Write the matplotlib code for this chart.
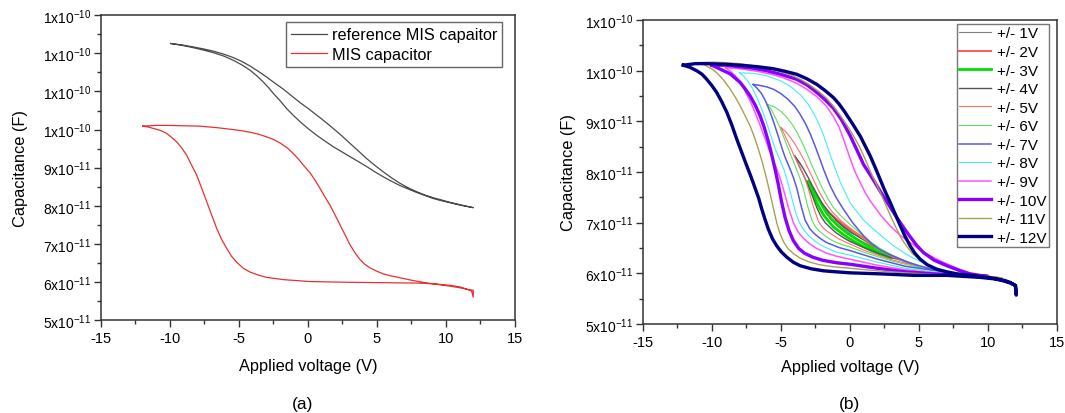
import numpy as np
import matplotlib
matplotlib.use("Agg")
import matplotlib.pyplot as plt
from matplotlib.ticker import FixedLocator, MultipleLocator

plt.rcParams['font.family'] = ['Liberation Sans', 'DejaVu Sans']
plt.rcParams['mathtext.fontset'] = 'custom'
plt.rcParams['mathtext.rm'] = 'Liberation Sans'
plt.rcParams['axes.unicode_minus'] = False

# capacitances are given in units of 1e-11 F
UNIT = 1e-11

# ---- (a) reference vs MIS capacitor ----
ref_v_up = [-9.95, -9.1, -8.31, -7.6, -6.86, -6.1, -5.41, -4.8, -4.2, -3.6, -3.0, -2.4, -1.78, -1.2, -0.58, 0.03,
            0.63, 1.23, 1.83, 2.44, 3.04, 3.65, 4.25, 4.85, 5.46, 6.07, 6.67, 7.27, 7.87, 8.48, 9.08, 9.7, 10.29, 11.1, 11.98]
ref_c_up = [12.26, 12.22, 12.17, 12.12, 12.06, 11.98, 11.89, 11.79, 11.67, 11.53, 11.38, 11.22, 11.06, 10.89, 10.71, 10.55,
            10.38, 10.21, 10.03, 9.84, 9.64, 9.44, 9.24, 9.06, 8.89, 8.73, 8.59, 8.47, 8.37, 8.28, 8.21, 8.15, 8.09, 8.02, 7.95]
ref_v_dn = [-9.95, -9.1, -8.31, -7.6, -6.86, -6.1, -5.41, -4.8, -4.2, -3.7, -3.24, -2.85, -2.51, -2.0, -1.54, -1.05, -0.58, 0.03,
            0.63, 1.23, 1.83, 2.44, 3.04, 3.65, 4.25, 4.85, 5.46, 6.07, 6.67, 7.27, 7.87, 8.48, 9.08, 9.7, 10.29, 11.1, 11.98]
ref_c_dn = [12.26, 12.21, 12.15, 12.09, 12.02, 11.93, 11.82, 11.70, 11.56, 11.41, 11.25, 11.10, 10.95, 10.75, 10.55, 10.37, 10.21, 10.02,
            9.85, 9.70, 9.55, 9.42, 9.29, 9.16, 9.03, 8.89, 8.76, 8.64, 8.53, 8.44, 8.35, 8.27, 8.19, 8.13, 8.08, 8.01, 7.95]

mis_v_up = [-11.98, -11.0, -10.24, -9.0, -7.83, -6.6, -5.41, -4.8, -4.2, -3.6, -3.0, -2.5, -2.03, -1.5, -1.06, -0.7, -0.34, 0.14,
            0.5, 0.87, 1.2, 1.59, 1.95, 2.32, 2.7, 3.04, 3.4, 3.77, 4.1, 4.49, 5.0, 5.46, 6.0, 6.67, 7.3, 7.87, 8.5, 9.08, 9.7,
            10.29, 10.8, 11.25, 11.6, 11.86, 11.98]
mis_c_up = [10.09, 10.11, 10.11, 10.10, 10.09, 10.05, 10.0, 9.97, 9.93, 9.88, 9.81, 9.74, 9.65, 9.52, 9.37, 9.23, 9.07, 8.87,
            8.68, 8.46, 8.25, 8.02, 7.77, 7.50, 7.23, 6.98, 6.77, 6.59, 6.47, 6.37, 6.28, 6.21, 6.16, 6.11, 6.06, 6.02, 5.98, 5.95, 5.92,
            5.89, 5.86, 5.83, 5.80, 5.76, 5.60]
mis_v_dn = [-11.98, -11.6, -11.21, -10.7, -10.24, -9.9, -9.52, -9.15, -8.79, -8.55, -8.07, -7.7, -7.34, -6.98, -6.62, -6.26,
            -5.89, -5.53, -5.17, -4.69, -4.2, -3.6, -3.0, -1.78, 0.14, 3.0, 5.5, 7.9, 9.1, 10.3, 11.0, 11.6, 11.98]
mis_c_dn = [10.09, 10.07, 10.03, 9.98, 9.90, 9.80, 9.68, 9.52, 9.33, 9.15, 8.81, 8.46, 8.11, 7.76, 7.41, 7.12,
            6.88, 6.67, 6.52, 6.36, 6.26, 6.18, 6.12, 6.06, 6.01, 5.99, 5.98, 5.97, 5.95, 5.91, 5.87, 5.80, 5.78]

# ---- (b) sweeps of increasing amplitude ----
v1_up = [-1, -0.5, 0, 0.5, 1]
c1_up = [7.05, 6.95, 6.86, 6.78, 6.70]
v1_dn = [-1, -0.5, 0, 0.5, 1]
c1_dn = [7.05, 6.91, 6.80, 6.75, 6.70]

v2_up = [-2, -1.5, -1, -0.5, 0, 1, 2]
c2_up = [7.35, 7.20, 7.08, 6.97, 6.88, 6.70, 6.50]
v2_dn = [-2, -1.6, -1.3, -0.7, 0, 1, 2]
c2_dn = [7.35, 7.16, 7.05, 6.90, 6.76, 6.60, 6.50]

v3_up = [-3, -2.7, -2.4, -2.05, -1.7, -1.35, -1, -0.5, 0, 0.75, 1.5, 2.2, 3]
c3_up = [7.81, 7.66, 7.52, 7.36, 7.20, 7.08, 6.98, 6.86, 6.76, 6.63, 6.52, 6.41, 6.30]
v3_dn = [-3, -2.75, -2.5, -2.2, -1.9, -1.55, -1.2, -0.6, 0, 0.75, 1.5, 2.2, 3]
c3_dn = [7.81, 7.62, 7.45, 7.29, 7.15, 7.03, 6.92, 6.79, 6.68, 6.56, 6.46, 6.38, 6.30]

v4_up = [-4, -3.7, -3.4, -3.05, -2.7, -2.35, -2.0, -1.5, -1, -0.5, 0, 0.75, 1.5, 2.2, 3, 4]
c4_up = [8.32, 8.21, 8.08, 7.91, 7.72, 7.55, 7.38, 7.20, 7.05, 6.93, 6.83, 6.70, 6.58, 6.47, 6.36, 6.24]
v4_dn = [-4, -3.75, -3.5, -3.25, -3.0, -2.7, -2.4, -2.1, -1.79, -1.4, -1, -0.5, 0, 1, 2, 3, 4]
c4_dn = [8.32, 8.17, 8.02, 7.88, 7.72, 7.52, 7.30, 7.13, 7.00, 6.90, 6.80, 6.71, 6.63, 6.51, 6.40, 6.31, 6.24]

v5_up = [-5, -4.65, -4.3, -3.95, -3.6, -3.25, -2.9, -2.55, -2.2, -1.75, -1.3, -0.65, 0, 0.7, 1.5, 2.2, 3, 4, 5]
c5_up = [8.88, 8.80, 8.68, 8.54, 8.38, 8.20, 8.00, 7.80, 7.60, 7.39, 7.22, 7.04, 6.90, 6.74, 6.58, 6.46, 6.34, 6.22, 6.14]
v5_dn = [-5, -4.75, -4.5, -4.25, -4.0, -3.75, -3.5, -3.25, -3.0, -2.65, -2.27, -1.95, -1.6, -0.8, 0, 1, 2, 3, 4, 5]
c5_dn = [8.88, 8.75, 8.60, 8.45, 8.30, 8.17, 8.03, 7.87, 7.66, 7.32, 7.02, 6.90, 6.82, 6.68, 6.58, 6.46, 6.36, 6.27, 6.20, 6.14]

v6_up = [-6, -5.5, -5, -4.6, -4.2, -3.8, -3.4, -3.05, -2.7, -2.35, -2.03, -1.6, -1.2, -0.6, 0, 0.7, 1.5, 2.2, 3, 3.7, 4.5, 5.2, 6]
c6_up = [9.34, 9.29, 9.20, 9.09, 8.95, 8.77, 8.55, 8.33, 8.10, 7.89, 7.70, 7.48, 7.30, 7.12, 6.97, 6.80, 6.62, 6.49, 6.37, 6.28, 6.20, 6.14, 6.08]
v6_dn = [-6, -5.7, -5.4, -5.1, -4.8, -4.55, -4.3, -4.07, -3.84, -3.6, -3.36, -3.05, -2.75, -2.5, -2.2, -1.8, -1.3, -0.6, 0, 1, 2, 3, 4, 5, 6]
c6_dn = [9.34, 9.24, 9.08, 8.90, 8.70, 8.52, 8.35, 8.20, 8.04, 7.87, 7.66, 7.32, 7.05, 6.92, 6.83, 6.74, 6.65, 6.57, 6.52, 6.42, 6.33, 6.25, 6.18, 6.12, 6.08]

v7_up = [-7, -6.5, -6, -5.5, -5, -4.5, -4, -3.6, -3.2, -2.85, -2.5, -2.2, -1.9, -1.43, -1.0, -0.5, 0.2, 1.0, 1.6, 2.2, 2.8, 3.4, 4.2, 5.0, 6.0, 7]
c7_up = [9.73, 9.71, 9.68, 9.63, 9.55, 9.44, 9.30, 9.14, 8.95, 8.74, 8.50, 8.28, 8.05, 7.73, 7.50, 7.28, 7.00, 6.74, 6.58, 6.46, 6.38, 6.31, 6.22, 6.15, 6.08, 6.02]
v7_dn = [-7, -6.7, -6.4, -6.1, -5.8, -5.5, -5.2, -4.95, -4.7, -4.5, -4.33, -4.1, -3.84, -3.55, -3.24, -2.9, -2.6, -2.2, -1.7, -0.8, 0, 2, 4, 7]
c7_dn = [9.73, 9.65, 9.55, 9.40, 9.20, 8.97, 8.72, 8.50, 8.30, 8.17, 8.06, 7.90, 7.68, 7.35, 7.05, 6.88, 6.79, 6.70, 6.61, 6.51, 6.45, 6.28, 6.14, 6.02]

v8_up = [-8, -7, -6, -5, -4.3, -3.6, -3.0, -2.5, -2.0, -1.4, -0.7, 0.0, 0.5, 1.0, 1.6, 2.2, 2.8, 3.4, 4.0, 4.6, 5.2, 5.8, 6.9, 8]
c8_up = [9.96, 9.95, 9.90, 9.80, 9.69, 9.53, 9.33, 9.10, 8.80, 8.32, 7.80, 7.40, 7.22, 7.05, 6.90, 6.76, 6.62, 6.50, 6.39, 6.30, 6.22, 6.15, 6.06, 5.99]
v8_dn = [-8, -7.7, -7.4, -7.05, -6.7, -6.35, -6.0, -5.7, -5.4, -5.08, -4.76, -4.5, -4.2, -3.9, -3.65, -3.35, -3.0, -2.5, -2.0, -1, 0, 2, 4, 6, 8]
c8_dn = [9.96, 9.90, 9.80, 9.65, 9.45, 9.22, 8.95, 8.70, 8.45, 8.25, 8.04, 7.80, 7.48, 7.18, 7.00, 6.86, 6.75, 6.63, 6.54, 6.42, 6.36, 6.22, 6.10, 6.03, 5.99]

v9_up = [-9, -8, -6.7, -5.7, -4.8, -3.9, -3.1, -2.4, -1.7, -1.2, -0.8, -0.4, 0.0, 0.35, 0.7, 1.1, 1.5, 2.2, 2.9, 3.6, 4.4, 5.1, 5.8, 6.6, 7.5, 8.3, 9]
c9_up = [10.06, 10.04, 9.99, 9.93, 9.86, 9.76, 9.63, 9.49, 9.30, 9.10, 8.90, 8.60, 8.28, 8.02, 7.82, 7.60, 7.42, 7.16, 6.94, 6.76, 6.60, 6.46, 6.35, 6.24, 6.13, 6.04, 5.96]
v9_dn = [-9, -8.6, -8.3, -7.9, -7.6, -7.25, -6.9, -6.55, -6.2, -5.9, -5.6, -5.35, -5.1, -4.81, -4.45, -4.09, -3.75, -3.4, -2.9, -2.4, -1.7, -1, 0, 2, 4, 6, 9]
c9_dn = [10.06, 9.98, 9.90, 9.77, 9.60, 9.42, 9.20, 8.96, 8.70, 8.48, 8.27, 8.10, 7.92, 7.66, 7.30, 7.00, 6.82, 6.70, 6.58, 6.49, 6.40, 6.34, 6.28, 6.16, 6.07, 6.01, 5.96]

v10_up = [-10, -9, -8, -7, -6, -5, -3.84, -3.1, -2.39, -1.8, -1.19, -0.6, 0.02, 0.5, 0.99, 1.6, 2.2, 2.8, 3.4, 3.9, 4.37, 4.85, 5.33, 6.1, 7.03, 7.9, 8.72, 9.4, 10]
c10_up = [10.11, 10.11, 10.08, 10.05, 10.00, 9.93, 9.83, 9.72, 9.57, 9.43, 9.26, 9.03, 8.72, 8.44, 8.15, 7.89, 7.62, 7.36, 7.10, 6.90, 6.72, 6.55, 6.41, 6.26, 6.15, 6.06, 5.99, 5.96, 5.94]
v10_dn = [-10, -9.6, -9.3, -8.67, -7.95, -7.6, -7.22, -6.85, -6.5, -6.2, -5.9, -5.65, -5.42, -5.2, -4.95, -4.69, -4.4, -4.1, -3.7, -3.3, -2.7, -2, -1, 0, 2, 4, 6, 8, 10]
c10_dn = [10.11, 10.06, 10.02, 9.94, 9.77, 9.65, 9.50, 9.32, 9.11, 8.88, 8.60, 8.33, 8.06, 7.78, 7.42, 7.10, 6.84, 6.65, 6.49, 6.40, 6.32, 6.26, 6.21, 6.18, 6.10, 6.03, 5.99, 5.96, 5.94]

v11_up = [-11, -10, -9, -8, -7, -6, -5, -4.2, -3.5, -2.9, -2.3, -1.7, -1.2, -0.7, -0.2, 0.25, 0.7, 1.1, 1.5, 1.85,
          2.2, 2.6, 3.0, 3.35, 3.7, 4.1, 4.5, 5.0, 5.5, 6.2, 7, 8, 9, 10, 11]
c11_up = [10.16, 10.17, 10.16, 10.14, 10.10, 10.05, 9.98, 9.91, 9.82, 9.72, 9.60, 9.46, 9.30, 9.12, 8.92, 8.72, 8.50, 8.26, 8.00, 7.80,
          7.60, 7.35, 7.10, 6.90, 6.70, 6.54, 6.40, 6.28, 6.18, 6.09, 6.03, 5.99, 5.96, 5.94, 5.91]
v11_dn = [-11, -10.6, -10.3, -9.95, -9.64, -9.15, -8.67, -8.3, -7.95, -7.6, -7.22, -6.9, -6.6, -6.32, -6.05, -5.8, -5.55,
          -5.3, -5.05, -4.78, -4.45, -4.05, -3.6, -3.0, -2.2, -1.2, 0, 2, 4, 6, 8, 10, 11]
c11_dn = [10.16, 10.13, 10.08, 10.03, 9.96, 9.82, 9.64, 9.48, 9.31, 9.12, 8.91, 8.68, 8.43, 8.17, 7.89, 7.60, 7.30,
          7.00, 6.78, 6.61, 6.48, 6.38, 6.30, 6.23, 6.17, 6.13, 6.10, 6.05, 6.01, 5.98, 5.96, 5.94, 5.91]

v12_up = [-12.06, -11.2, -10.36, -9.2, -7.95, -6.7, -5.54, -4.7, -3.84, -3.1, -2.39, -1.8, -1.19, -0.8, -0.4, 0.2, 0.75,
          1.1, 1.47, 1.85, 2.2, 2.55, 2.92, 3.3, 3.65, 4.0, 4.37, 4.7, 5.09, 5.6, 6.3, 7.0, 7.75, 8.5, 9.2, 10.0, 10.65,
          11.2, 11.62, 11.98, 12.05]
c12_up = [10.11, 10.14, 10.14, 10.13, 10.11, 10.08, 10.04, 9.99, 9.93, 9.84, 9.73, 9.61, 9.47, 9.35, 9.20, 8.95, 8.71,
          8.52, 8.32, 8.08, 7.85, 7.62, 7.40, 7.16, 6.94, 6.73, 6.54, 6.40, 6.28, 6.17, 6.08, 6.03, 5.99, 5.97, 5.95, 5.92, 5.89,
          5.86, 5.82, 5.76, 5.57]
v12_dn = [-12.06, -11.6, -11.09, -10.7, -10.36, -10.0, -9.64, -9.3, -8.91, -8.55, -8.19, -7.82, -7.46, -7.15, -6.86, -6.6,
          -6.38, -6.15, -5.9, -5.6, -5.29, -4.95, -4.57, -4.1, -3.6, -2.8, -1.91, -1.0, 0.02, 2.2, 4.61, 7.03, 9.44, 10.5,
          11.13, 11.6, 12.0]
c12_dn = [10.11, 10.07, 10.00, 9.93, 9.83, 9.71, 9.57, 9.40, 9.18, 8.93, 8.65, 8.38, 8.12, 7.90, 7.68, 7.48,
          7.27, 7.07, 6.87, 6.68, 6.54, 6.42, 6.32, 6.22, 6.15, 6.09, 6.05, 6.03, 6.01, 5.99, 5.96, 5.96, 5.92, 5.89,
          5.85, 5.81, 5.76]

sweep_labels = ['+/- 1V', '+/- 2V', '+/- 3V', '+/- 4V', '+/- 5V', '+/- 6V',
                '+/- 7V', '+/- 8V', '+/- 9V', '+/- 10V', '+/- 11V', '+/- 12V']
sweep_colors = ['#808080', '#ff5a5a', '#00e000', '#555555', '#ff6e6e', '#5ee05e',
                '#5a5ae0', '#40f0f0', '#ff55ff', '#8a00ff', '#aaa050', '#000080']
sweep_widths = [0.8, 1.4, 2.0, 1.0, 0.8, 0.8, 1.1, 0.8, 1.1, 2.4, 1.0, 2.4]

left_yticks = [5, 6, 7, 8, 9, 10, 11, 12, 13]
left_ylabels = [r'5x10$^{-11}$', r'6x10$^{-11}$', r'7x10$^{-11}$', r'8x10$^{-11}$', r'9x10$^{-11}$',
                r'1x10$^{-10}$', r'1x10$^{-10}$', r'1x10$^{-10}$', r'1x10$^{-10}$']
right_yticks = [5, 6, 7, 8, 9, 10, 11]
right_ylabels = [r'5x10$^{-11}$', r'6x10$^{-11}$', r'7x10$^{-11}$', r'8x10$^{-11}$', r'9x10$^{-11}$',
                 r'1x10$^{-10}$', r'1x10$^{-10}$']
xticks = [-15, -10, -5, 0, 5, 10, 15]


def loop(vu, cu, vd, cd):
    v = np.r_[vu, vd[::-1]]
    c = np.r_[cu, cd[::-1]] * UNIT
    return v, c


def style(ax, yt, yl):
    ax.set_xlim(-15, 15)
    ax.set_ylim(yt[0] * UNIT, yt[-1] * UNIT)
    ax.xaxis.set_major_locator(FixedLocator(xticks))
    ax.xaxis.set_minor_locator(MultipleLocator(2.5))
    ax.yaxis.set_major_locator(FixedLocator([t * UNIT for t in yt]))
    ax.yaxis.set_minor_locator(MultipleLocator(0.5 * UNIT))
    ax.set_yticklabels(yl)
    ax.set_xticklabels([str(t) for t in xticks])
    ax.tick_params(which='both', direction='out', top=False, right=False, color='#333333')
    ax.tick_params(which='major', length=5, width=1.0)
    ax.tick_params(which='minor', length=3, width=1.0)
    ax.tick_params(axis='x', labelsize=10.5, pad=3)
    ax.tick_params(axis='y', labelsize=10, pad=2)
    for s in ax.spines.values():
        s.set_linewidth(1.1)
        s.set_color('#333333')
    ax.set_xlabel('Applied voltage (V)', fontsize=11.8)
    ax.set_ylabel('Capacitance (F)', fontsize=11.8)


fig = plt.figure(figsize=(10.65, 4.14), dpi=100)
ax1 = fig.add_axes([0.0948, 0.2246, 0.3887, 0.736])
ax2 = fig.add_axes([0.6035, 0.215, 0.389, 0.734])

v, c = loop(ref_v_up, ref_c_up, ref_v_dn, ref_c_dn)
ax1.plot(v, c, color='#4a4a4a', lw=0.9, label='reference MIS capaitor')
v, c = loop(mis_v_up, mis_c_up, mis_v_dn, mis_c_dn)
ax1.plot(v, c, color='#e83030', lw=0.9, label='MIS capacitor')
style(ax1, left_yticks, left_ylabels)
leg1 = ax1.legend(loc='upper right', bbox_to_anchor=(0.969, 0.977), borderaxespad=0, fontsize=11.7,
                  handlelength=2.2, handletextpad=0.3, borderpad=0.3, labelspacing=0.3,
                  fancybox=False, edgecolor='#666666', framealpha=1)
leg1.get_frame().set_linewidth(1.0)

sweeps = [(v1_up, c1_up, v1_dn, c1_dn), (v2_up, c2_up, v2_dn, c2_dn), (v3_up, c3_up, v3_dn, c3_dn),
          (v4_up, c4_up, v4_dn, c4_dn), (v5_up, c5_up, v5_dn, c5_dn), (v6_up, c6_up, v6_dn, c6_dn),
          (v7_up, c7_up, v7_dn, c7_dn), (v8_up, c8_up, v8_dn, c8_dn), (v9_up, c9_up, v9_dn, c9_dn),
          (v10_up, c10_up, v10_dn, c10_dn), (v11_up, c11_up, v11_dn, c11_dn),
          (v12_up, c12_up, v12_dn, c12_dn)]
for (vu, cu, vd, cd), lab, col, w in zip(sweeps, sweep_labels, sweep_colors, sweep_widths):
    v, c = loop(vu, cu, vd, cd)
    ax2.plot(v, c, color=col, lw=w, label=lab)
style(ax2, right_yticks, right_ylabels)
leg2 = ax2.legend(loc='upper right', bbox_to_anchor=(0.981, 0.987), borderaxespad=0, fontsize=11,
                  handlelength=2.1, handletextpad=0.4, borderpad=0.15, labelspacing=0.30,
                  fancybox=False, edgecolor='#777777', framealpha=1)
leg2.get_frame().set_linewidth(1.0)

ax1.yaxis.set_label_coords(-0.176, 0.5)
ax2.yaxis.set_label_coords(-0.161, 0.5)
ax1.xaxis.set_label_coords(0.5, -0.125)
ax2.xaxis.set_label_coords(0.5, -0.115)

fig.text(303 / 1065, 1 - 405 / 414, '(a)', ha='center', va='center', fontsize=12.5)
fig.text(850 / 1065, 1 - 405 / 414, '(b)', ha='center', va='center', fontsize=12.5)

fig.savefig('out.png', dpi=100)
